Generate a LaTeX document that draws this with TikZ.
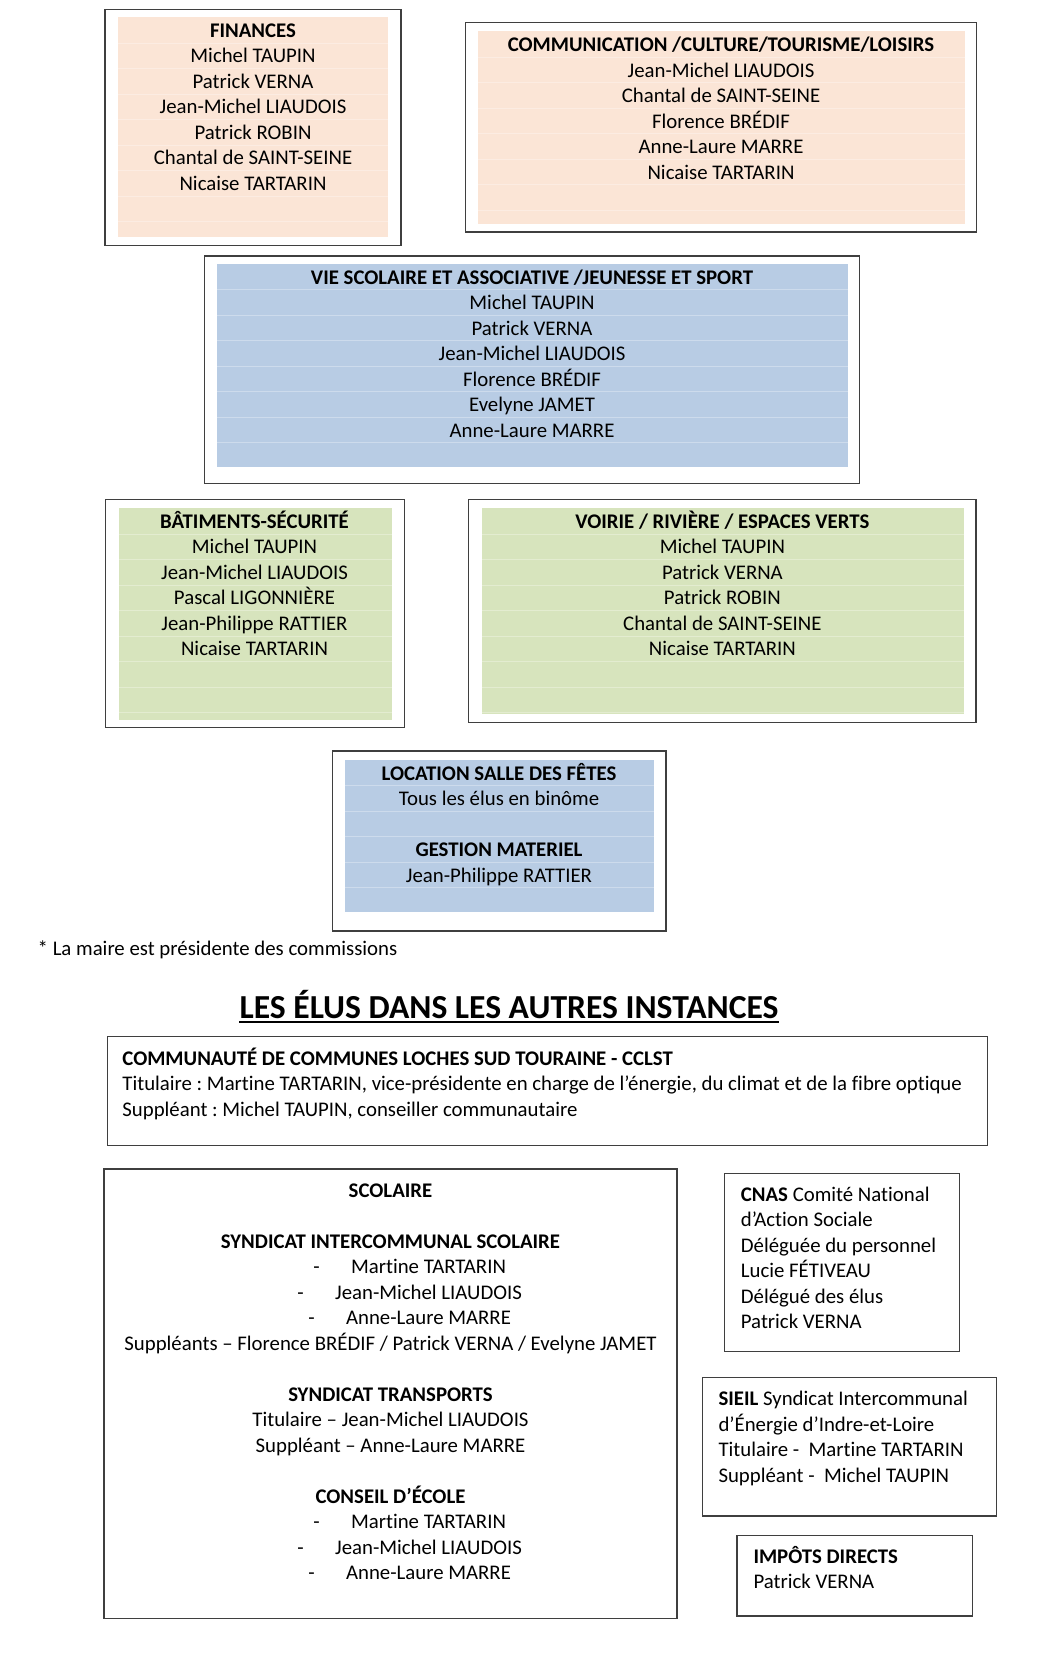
\documentclass[tikz,border=0pt]{standalone}
\usepackage{fontspec}
\setmainfont{Carlito}[Ligatures=NoCommon]
\usetikzlibrary{positioning}

\definecolor{peach}{HTML}{FBE5D6}
\definecolor{paleblue}{HTML}{B8CCE4}
\definecolor{palegreen}{HTML}{D7E4BD}
\definecolor{framegray}{HTML}{3F3F3F}

\tikzset{
  frame/.style={draw=framegray, line width=1.4pt},
  rowsep/.style={white, opacity=.3, line width=.9pt},
  txt/.style={anchor=base, inner sep=0pt, font=\fontsize{20.8}{25.5}\selectfont},
  lefttxt/.style={txt, anchor=base west}
}
\frenchspacing

\begin{document}
\begin{tikzpicture}[x=1pt, y=-1pt]
\useasboundingbox (0,0) rectangle (1052,1666);

% commission finances
\draw[frame] (105,9.5) rectangle (401,245.5);
\fill[peach] (118.3,17.3) rectangle (388.3,236.7);
\foreach \y in {43,68.5,...,236} \draw[rowsep] (118.3,\y) -- (388.3,\y);
\foreach \name [count=\k from 0] in {\textbf{FINANCES}, Michel TAUPIN, Patrick VERNA, Jean-Michel LIAUDOIS, Patrick ROBIN, Chantal de SAINT-SEINE, Nicaise TARTARIN}
  \node[txt] (fin\k) at (253,37.3+25.5*\k) {\name};

% communication
\draw[frame] (465.4,22.3) rectangle (976.5,232);
\fill[peach] (478.3,31) rectangle (965,224.3);
\foreach \y in {57.4,82.9,...,224} \draw[rowsep] (478.3,\y) -- (965,\y);
\foreach \name [count=\k from 0] in {\textbf{COMMUNICATION /CULTURE/TOURISME/LOISIRS}, Jean-Michel LIAUDOIS, Chantal de SAINT-SEINE, Florence BRÉDIF, Anne-Laure MARRE, Nicaise TARTARIN}
  \node[txt] (com\k) at (721,51.7+25.5*\k) {\name};

% vie scolaire
\draw[frame] (204.2,256) rectangle (859.4,483.3);
\fill[paleblue] (216.5,264) rectangle (848,467.3);
\foreach \y in {289.7,315.2,...,467} \draw[rowsep] (216.5,\y) -- (848,\y);
\foreach \name [count=\k from 0] in {\textbf{VIE SCOLAIRE ET ASSOCIATIVE /JEUNESSE ET SPORT}, Michel TAUPIN, Patrick VERNA, Jean-Michel LIAUDOIS, Florence BRÉDIF, Evelyne JAMET, Anne-Laure MARRE}
  \node[txt] (vie\k) at (532,284+25.5*\k) {\name};

% batiments
\draw[frame] (105.4,499.3) rectangle (404.2,727.7);
\fill[palegreen] (118.5,508.3) rectangle (391.8,720);
\foreach \y in {534,559.5,...,719} \draw[rowsep] (118.5,\y) -- (391.8,\y);
\foreach \name [count=\k from 0] in {\textbf{BÂTIMENTS-SÉCURITÉ}, Michel TAUPIN, Jean-Michel LIAUDOIS, Pascal LIGONNIÈRE, Jean-Philippe RATTIER, Nicaise TARTARIN}
  \node[txt] (bat\k) at (254.5,528.3+25.5*\k) {\name};

% voirie
\draw[frame] (468.7,499.3) rectangle (975.8,722.5);
\fill[palegreen] (481.5,508.3) rectangle (963.5,714);
\foreach \y in {534,559.5,...,713} \draw[rowsep] (481.5,\y) -- (963.5,\y);
\foreach \name [count=\k from 0] in {\textbf{VOIRIE / RIVIÈRE / ESPACES VERTS}, Michel TAUPIN, Patrick VERNA, Patrick ROBIN, Chantal de SAINT-SEINE, Nicaise TARTARIN}
  \node[txt] (voi\k) at (722.4,528.3+25.5*\k) {\name};

% location salle
\draw[frame] (332.7,751) rectangle (666,931);
\fill[paleblue] (344.8,760) rectangle (654,911.7);
\foreach \y in {785.7,811.2,...,911} \draw[rowsep] (344.8,\y) -- (654,\y);
\foreach \name [count=\k from 0] in {\textbf{LOCATION SALLE DES FÊTES}, Tous les élus en binôme, {}, \textbf{GESTION MATERIEL}, Jean-Philippe RATTIER}
  \node[txt] (loc\k) at (499,780+25.5*\k) {\name};

\node[lefttxt] (note) at (37.5,955.7) {* La maire est présidente des commissions};

% autres instances
\node[txt, font=\fontsize{33.6}{38}\selectfont\bfseries] (titre) at (509,1018) {LES ÉLUS DANS LES AUTRES INSTANCES};
\draw[line width=2pt] ([yshift=-4pt]titre.base west) -- ([yshift=-4pt]titre.base east);

\draw[frame, line width=1.3pt] (107.3,1036.5) rectangle (987.2,1145.5);
\foreach \name [count=\k from 0] in {\textbf{COMMUNAUTÉ DE COMMUNES LOCHES SUD TOURAINE - CCLST}, {Titulaire : Martine TARTARIN, vice-présidente en charge de l’énergie, du climat et de la fibre optique}, {Suppléant : Michel TAUPIN, conseiller communautaire}}
  \node[lefttxt] (cc\k) at (122.2,1065+25.5*\k) {\name};

\draw[frame, line width=1.3pt] (104,1169) rectangle (677,1618.3);
\node[txt] (sco0) at (390.5,1197.3) {\textbf{SCOLAIRE}};
\node[txt] (sco2) at (390.5,1197.3+25.5*2) {\textbf{SYNDICAT INTERCOMMUNAL SCOLAIRE}};
\foreach \name [count=\k] in {Martine TARTARIN, Jean-Michel LIAUDOIS, Anne-Laure MARRE} {
  \node[txt] (sis\k) at (428.5,1197.3+25.5*\k+51) {\name};
  \node[txt, base left=31pt of sis\k] (sisd\k) {-};
}
\node[txt] (sco6) at (390.5,1197.3+25.5*6) {Suppléants – Florence BRÉDIF / Patrick VERNA / Evelyne JAMET};
\node[txt] (sco8) at (390.5,1197.3+25.5*8) {\textbf{SYNDICAT TRANSPORTS}};
\node[txt] (sco9) at (390.5,1197.3+25.5*9) {Titulaire – Jean-Michel LIAUDOIS};
\node[txt] (sco10) at (390.5,1197.3+25.5*10) {Suppléant – Anne-Laure MARRE};
\node[txt] (sco12) at (390.5,1197.3+25.5*12) {\textbf{CONSEIL D’ÉCOLE}};
\foreach \name [count=\k] in {Martine TARTARIN, Jean-Michel LIAUDOIS, Anne-Laure MARRE} {
  \node[txt] (ce\k) at (428.5,1197.3+25.5*\k+306) {\name};
  \node[txt, base left=31pt of ce\k] (ced\k) {-};
}

% cnas
\draw[frame, line width=1.3pt] (724.3,1173.3) rectangle (959.3,1351.7);
\foreach \name [count=\k from 0] in {\textbf{CNAS} Comité National, d’Action Sociale, Déléguée du personnel, Lucie FÉTIVEAU, Délégué des élus, Patrick VERNA}
  \node[lefttxt] (cnas\k) at (740.7,1201+25.5*\k) {\name};

% sieil
\draw[frame, line width=1.3pt] (702.7,1377.3) rectangle (996.3,1516);
\foreach \name [count=\k from 0] in {\textbf{SIEIL} Syndicat Intercommunal, d’Énergie d’Indre-et-Loire, Titulaire -\ \ Martine TARTARIN, Suppléant -\ \ Michel TAUPIN}
  \node[lefttxt] (sieil\k) at (718.3,1405.7+25.5*\k) {\name};

% impots
\draw[frame, line width=1.3pt] (737,1535.7) rectangle (972.3,1616);
\foreach \name [count=\k from 0] in {\textbf{IMPÔTS DIRECTS}, Patrick VERNA}
  \node[lefttxt] (imp\k) at (753.3,1563.3+25.5*\k) {\name};

\end{tikzpicture}
\end{document}
